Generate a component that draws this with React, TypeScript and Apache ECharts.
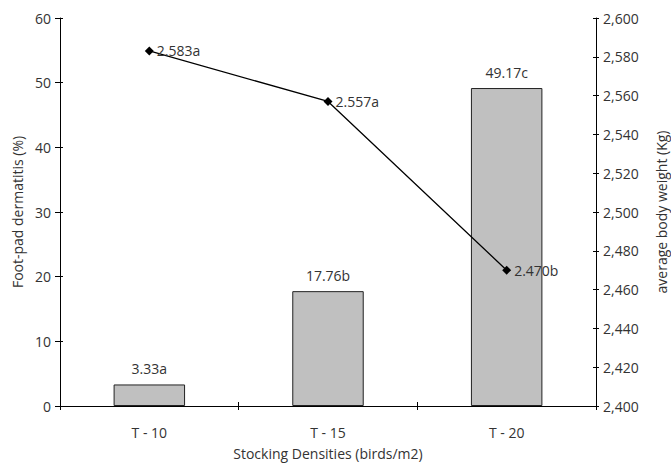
import React, { useEffect, useRef } from "react";
import * as echarts from "echarts";

const categories = ["T - 10", "T - 15", "T - 20"];
const footPad = [3.33, 17.76, 49.17];
const footPadLetters = ["a", "b", "c"];
const bodyWeight = [2583, 2557, 2470];
const bodyWeightLabels = ["2.583a", "2.557a", "2.470b"];
const leftTicks = { min: 0, max: 60, interval: 10 };
const rightTicks = { min: 2400, max: 2600, interval: 20 };

const FONT = "'Open Sans', 'Noto Sans', sans-serif";
const TXT = "#333";
const FS = 14;

export default function App() {
  const ref = useRef<HTMLDivElement>(null);
  useEffect(() => {
    document.body.style.margin = "0";
    const chart = echarts.init(ref.current!, null, { renderer: "svg" });
    const axisLine = { show: true, lineStyle: { color: "#000", width: 1 } };
    chart.setOption({
      animation: false,
      textStyle: { fontFamily: FONT },
      grid: { left: 60, right: 75, top: 18, bottom: 60, containLabel: false, outerBoundsMode: "none" },
      xAxis: [
        {
          type: "category",
          data: categories,
          name: "Stocking Densities (birds/m2)",
          nameLocation: "middle",
          nameGap: 40,
          nameTextStyle: { fontSize: FS, color: TXT, fontFamily: FONT },
          axisLine,
          axisTick: { show: true, length: 4, lineStyle: { color: "#000" } },
          axisLabel: { fontSize: FS, color: TXT, margin: 19, fontFamily: FONT },
        },
        {
          type: "category",
          data: categories,
          position: "bottom",
          axisLine: { show: false },
          axisTick: { show: true, inside: true, length: 4, lineStyle: { color: "#000" } },
          axisLabel: { show: false },
        },
      ],
      yAxis: [
        {
          type: "value",
          ...leftTicks,
          name: "Foot-pad dermatitis (%)",
          nameLocation: "middle",
          nameRotate: 90,
          nameGap: 36,
          nameTextStyle: { fontSize: FS, color: TXT, fontFamily: FONT },
          axisLine,
          axisTick: { show: true, length: 5, lineStyle: { color: "#000" } },
          axisLabel: { fontSize: FS, color: TXT, margin: 9, fontFamily: FONT },
          splitLine: { show: false },
        },
        {
          type: "value",
          ...rightTicks,
          position: "right",
          name: "average body weight (Kg)",
          nameLocation: "middle",
          nameRotate: 90,
          nameGap: 58,
          nameTextStyle: { fontSize: FS, color: TXT, fontFamily: FONT },
          axisLine,
          axisTick: { show: true, length: 3, lineStyle: { color: "#000" } },
          axisLabel: {
            fontSize: FS,
            color: TXT,
            margin: 7,
            fontFamily: FONT,
            formatter: (v: number) => v.toLocaleString("en-US"),
          },
          splitLine: { show: false },
        },
        {
          type: "value",
          ...leftTicks,
          position: "left",
          axisLine: { show: false },
          axisTick: { show: true, inside: true, length: 3, lineStyle: { color: "#000" } },
          axisLabel: { show: false },
          splitLine: { show: false },
        },
        {
          type: "value",
          ...rightTicks,
          position: "right",
          axisLine: { show: false },
          axisTick: { show: true, inside: true, length: 3, lineStyle: { color: "#000" } },
          axisLabel: { show: false },
          splitLine: { show: false },
        },
      ],
      series: [
        {
          type: "bar",
          yAxisIndex: 0,
          data: footPad,
          barWidth: "40%",
          itemStyle: { color: "#c0c0c0", borderColor: "#222", borderWidth: 1 },
          label: {
            show: true,
            position: "top",
            distance: 9,
            fontSize: FS,
            color: TXT,
            fontFamily: FONT,
            formatter: (p: any) => p.value.toFixed(2) + footPadLetters[p.dataIndex],
          },
        },
        {
          type: "line",
          yAxisIndex: 1,
          data: bodyWeight,
          symbol: "diamond",
          symbolSize: 9,
          lineStyle: { color: "#000", width: 1.3 },
          itemStyle: { color: "#000" },
          label: {
            show: true,
            position: "right",
            distance: 3,
            fontSize: FS,
            color: TXT,
            fontFamily: FONT,
            formatter: (p: any) => bodyWeightLabels[p.dataIndex],
          },
        },
      ],
    });
    return () => chart.dispose();
  }, []);
  return <div ref={ref} style={{ width: 671, height: 466 }} />;
}
